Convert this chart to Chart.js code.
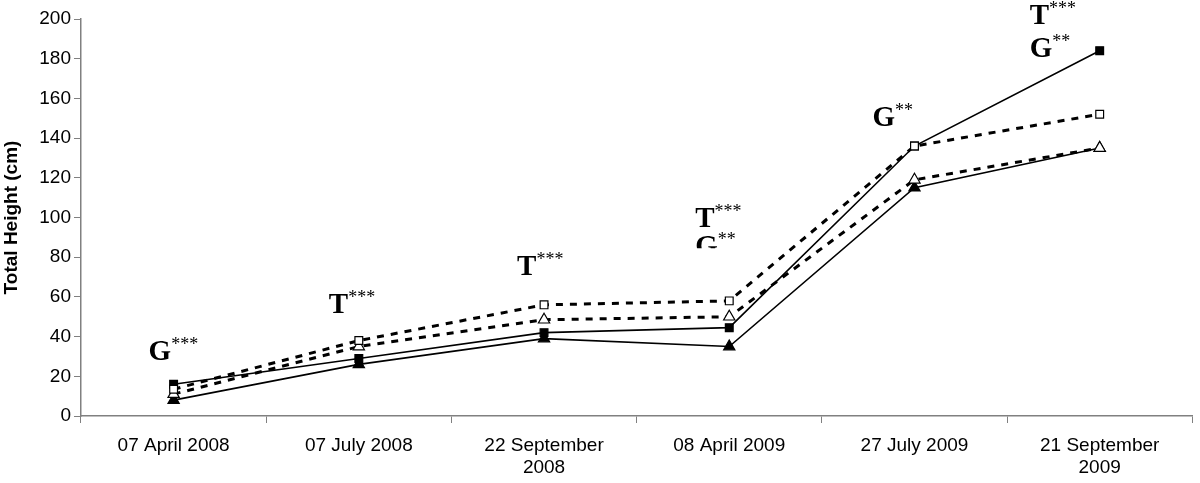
<!DOCTYPE html>
<html>
<head>
<meta charset="utf-8">
<script src="https://cdn.jsdelivr.net/npm/chart.js@4/dist/chart.umd.min.js"></script>
<style>
    html, body { margin: 0; padding: 0; background: #fff; }
    #wrap { width: 1200px; height: 483px; }
</style>
</head>
<body>
<div id="wrap"><canvas id="chart"></canvas></div>
<script>
    'use strict';

    // dates of measurement
    const dates = [
        '07 April 2008',
        '07 July 2008',
        ['22 September', '2008'],
        '08 April 2009',
        '27 July 2009',
        ['21 September', '2009']
    ];

    // total height (cm) per treatment
    const filledSquare   = [16, 29, 42, 44.5, 136, 184];
    const filledTriangle = [8, 26, 39, 35, 115, 135];
    const openSquare     = [13.5, 38, 56, 58, 136, 152];
    const openTriangle   = [11, 35, 48.5, 50, 119, 135];

    const yTicks = [0, 20, 40, 60, 80, 100, 120, 140, 160, 180, 200];

    // significance labels: category index, height of baseline (axis units), text lines
    const sigIndex = [0, 1, 2, 3, 4, 5];
    const sigLevel = [[28], [52], [71], [95, 81], [146], [197.5, 181]];
    const sigText  = [['G***'], ['T***'], ['T***'], ['T***', 'G**'], ['G**'], ['T***', 'G**']];

    const sigShift = [-25, -30, -27, -34, -42, -70];

    const sigPlugin = {
        id: 'sig',
        afterDatasetsDraw(chart) {
            const ctx = chart.ctx;
            const xs = chart.scales.x;
            const ys = chart.scales.y;
            ctx.save();
            ctx.fillStyle = '#000';
            ctx.textBaseline = 'alphabetic';
            ctx.textAlign = 'left';
            sigIndex.forEach((idx, i) => {
                sigText[i].forEach((txt, j) => {
                    const x = xs.getPixelForValue(idx) + sigShift[i];
                    const y = ys.getPixelForValue(sigLevel[i][j]);
                    const letter = txt.charAt(0);
                    const stars = txt.slice(1);
                    ctx.save();
                    if (idx === 3 && j === 1) {
                        // lower label is cut off in the original figure
                        ctx.beginPath();
                        ctx.rect(x - 5, y - 40, 80, 33);
                        ctx.clip();
                    }
                    ctx.font = 'bold 29px "Liberation Serif", "DejaVu Serif", serif';
                    ctx.fillText(letter, x, y);
                    const w = ctx.measureText(letter).width;
                    ctx.font = '18px "Liberation Serif", "DejaVu Serif", serif';
                    ctx.fillText(stars, x + w, y - 10);
                    ctx.restore();
                });
            });
            ctx.restore();
        }
    };

    const mk = (data, style, fill, dashed) => ({
        data: data,
        borderColor: '#000',
        borderWidth: dashed ? 3 : 1.6,
        borderDash: dashed ? [7, 7] : [],
        pointStyle: style,
        pointRadius: style === 'triangle' ? 6.5 : 5.5,
        pointBackgroundColor: fill ? '#000' : '#fff',
        pointBorderColor: '#000',
        pointBorderWidth: 1.2,
        tension: 0,
        fill: false
    });

    new Chart(document.getElementById('chart').getContext('2d'), {
        type: 'line',
        data: {
            labels: dates,
            datasets: [
                mk(openSquare, 'rect', false, true),
                mk(openTriangle, 'triangle', false, true),
                mk(filledSquare, 'rect', true, false),
                mk(filledTriangle, 'triangle', true, false)
            ]
        },
        options: {
            responsive: true,
            maintainAspectRatio: false,
            animation: false,
            layout: { padding: { top: 19, right: 2, left: 0, bottom: 0 } },
            plugins: {
                legend: { display: false },
                tooltip: { enabled: false }
            },
            scales: {
                x: {
                    offset: true,
                    grid: {
                        offset: true,
                        drawOnChartArea: false,
                        tickLength: 7,
                        color: '#808080'
                    },
                    border: { color: '#808080', width: 1.5 },
                    ticks: {
                        color: '#000',
                        maxRotation: 0,
                        autoSkip: false,
                        padding: 12,
                        font: { family: '"Liberation Sans", Arial, sans-serif', size: 19, lineHeight: 1.15 }
                    },
                    afterFit(scale) { scale.height = 67; }
                },
                y: {
                    min: 0,
                    max: 200,
                    afterBuildTicks(scale) { scale.ticks = yTicks.map(v => ({ value: v })); },
                    grid: {
                        drawOnChartArea: false,
                        tickLength: 7,
                        color: '#808080'
                    },
                    border: { color: '#808080', width: 1.5 },
                    ticks: {
                        color: '#000',
                        padding: 3,
                        font: { family: '"Liberation Sans", Arial, sans-serif', size: 19 }
                    },
                    title: {
                        display: true,
                        text: 'Total Height (cm)',
                        color: '#000',
                        padding: { top: 0, bottom: 4 },
                        font: { family: '"Liberation Sans", Arial, sans-serif', size: 19, weight: 'bold' }
                    },
                    afterFit(scale) { scale.width = 81; }
                }
            }
        },
        plugins: [sigPlugin]
    });
</script>
</body>
</html>
